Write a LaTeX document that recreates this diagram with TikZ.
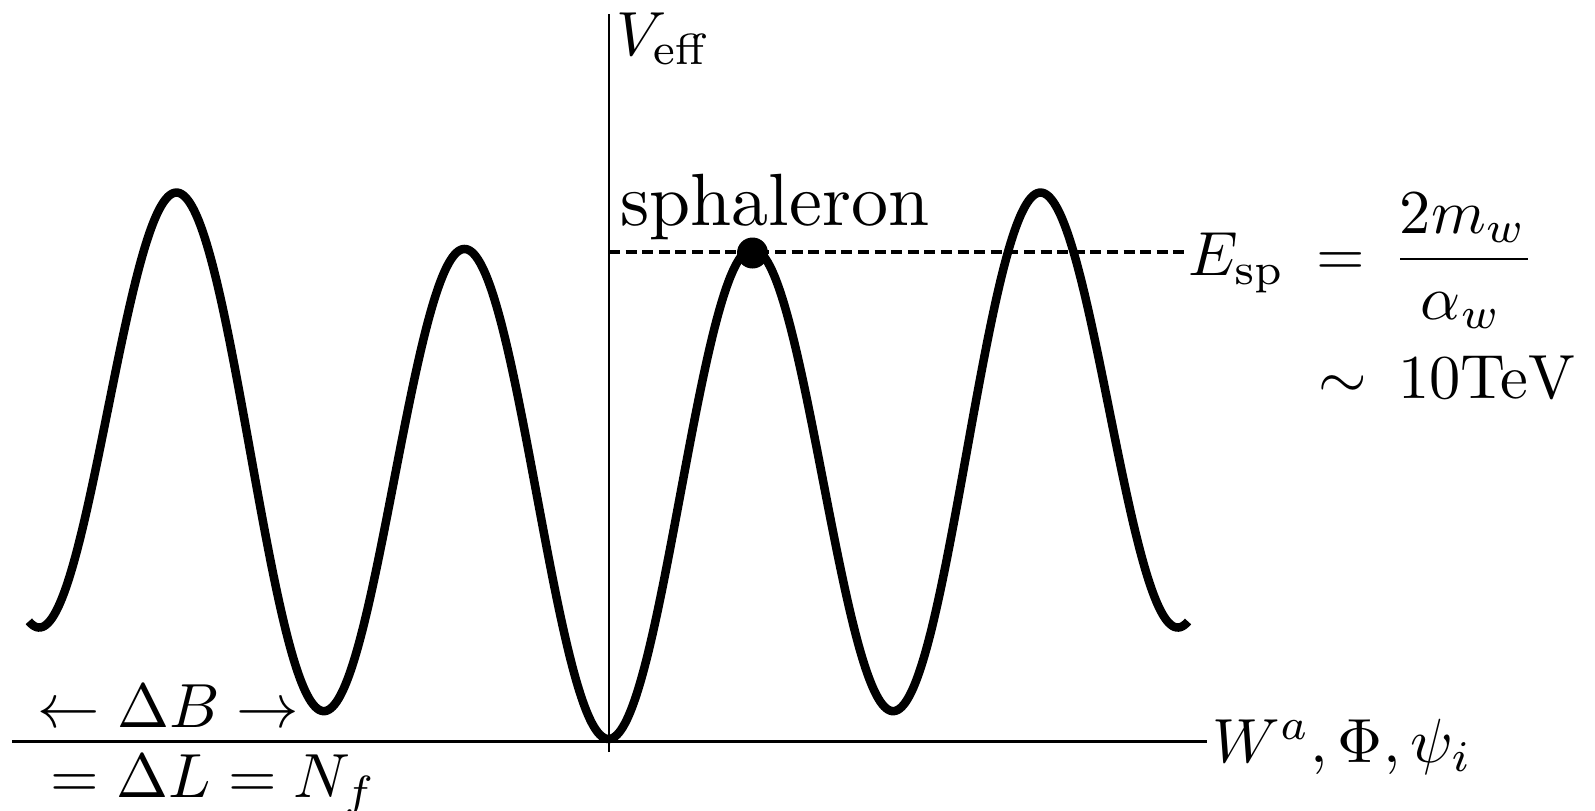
\documentclass[tikz,border=0pt]{standalone}
\newcommand{\szA}[1]{\scalebox{3.12}{#1}}
\newcommand{\szB}[1]{\scalebox{3.7}{#1}}
\begin{document}
\begin{tikzpicture}[x=0.5pt,y=-0.5pt,
  curve/.style={line width=4.25pt},
  axisline/.style={line width=1.25pt},
  guide/.style={line width=2pt, dash pattern=on 5.5pt off 2.8pt},
  lbl/.style={inner sep=0pt, font=\normalsize}]
\useasboundingbox (0,0) rectangle (1595,810);
% axes
\coordinate (xl) at (12,741.7);
\coordinate (xr) at (1207,741.7);
\coordinate (yb) at (609,752);
\coordinate (yt) at (609,14);
\draw[axisline] (xl) -- (xr);
\draw[axisline] (yb) -- (yt);
% potential
\draw[curve] plot[domain=-12.72:12.72, samples=600, smooth]
  ({608.5+45.57*\x},{739 - (241.5*(1-cos(\x r)) + 0.71*\x*\x)});
% sphaleron level
\coordinate (dl) at (609,252);
\coordinate (dr) at (1188,252);
\draw[guide] (dl) -- (dr);
\node[circle, fill, inner sep=0pt, minimum size=15.5pt] (sp) at (752.5,253) {};
% labels
\node[lbl, anchor=base west] (sptext) at (620,225) {\szB{sphaleron}};
\node[lbl, anchor=base west] (veff) at (616,55) {\szA{$V_{\mathrm{eff}}$}};
\node[lbl, anchor=base west] (esp) at (1188,275) {\szA{$E_{\mathrm{sp}}$}};
\node[lbl, anchor=base west] (eq) at (1316,275) {\szA{$=$}};
\node[lbl, anchor=base] (num) at (1463,233) {\szA{$2m_w$}};
\coordinate (barl) at (1400,259);
\coordinate (barr) at (1528,259);
\draw[line width=1.3pt] (barl) -- (barr);
\node[lbl, anchor=base] (den) at (1461,319) {\szA{$\alpha_w$}};
\node[lbl, anchor=base west] (sim) at (1318,398) {\szA{$\sim$}};
\node[lbl, anchor=base west] (tev) at (1398,398) {\szA{$\mathrm{10TeV}$}};
\node[lbl, anchor=base west] (fields) at (1212,762) {\szA{$W^a,\Phi,\psi_i$}};
\node[lbl, anchor=base west] (db) at (37,727) {\szA{$\leftarrow\Delta B\rightarrow$}};
\node[lbl, anchor=base west] (dlf) at (50,797) {\szA{$=\Delta L=N_f$}};
\end{tikzpicture}
\end{document}
